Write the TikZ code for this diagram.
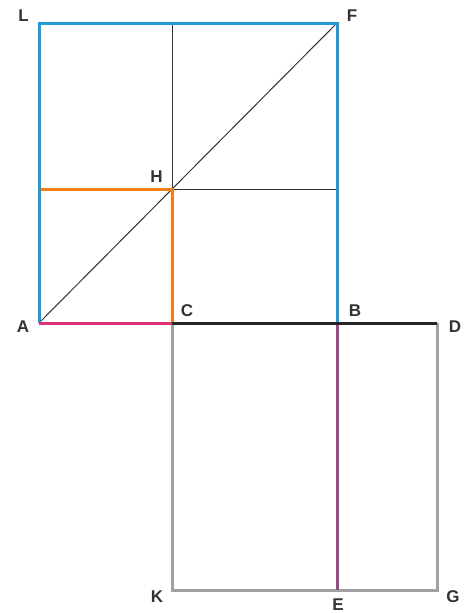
\documentclass[tikz,border=0pt]{standalone}
\usepackage{fontspec}
\setmainfont{Liberation Sans}
\definecolor{cblue}{HTML}{1E9ADB}
\definecolor{corange}{HTML}{F57F17}
\definecolor{cmag}{HTML}{E0307A}
\definecolor{cpurp}{HTML}{9A4A8A}
\definecolor{cgray}{HTML}{A0A0A0}
\definecolor{cdark}{HTML}{333333}
\begin{document}
\begin{tikzpicture}[x=1pt,y=-1pt,
  thick line/.style={line width=3pt,line join=miter},
  thin line/.style={line width=1pt,draw=cdark},
  lbl/.style={font=\fontsize{17}{17}\selectfont\bfseries,text=cdark,inner sep=0pt}]
\useasboundingbox (0,0) rectangle (468,613);
\coordinate (L) at (39,23);
\coordinate (F) at (337,23);
\coordinate (A) at (39,323);
\coordinate (C) at (172,323);
\coordinate (B) at (337,323);
\coordinate (D) at (437,323);
\coordinate (H) at (172,189);
\coordinate (K) at (172,590);
\coordinate (E) at (337,590);
\coordinate (G) at (437,590);
\coordinate (T) at (172,23);
\coordinate (R) at (337,189);
\coordinate (M) at (39,189);
% thin lines
\draw[thin line] (T) -- (H) -- (R);
\draw[thin line] (A) -- (F);
% gray square
\draw[thick line,draw=cgray] (C) -- (K) -- (G) -- (D);
% purple
\draw[thick line,draw=cpurp] (B) -- (E);
% orange
\draw[thick line,draw=corange] (M) -- (H) -- (C);
% blue
\draw[thick line,draw=cblue] (A) -- (L) -- (F) -- (B);
% bottom
\draw[thick line,draw=cmag] (A) -- (C);
\draw[thick line,draw=black!85] (C) -- (D);
% labels
\node[lbl] (lL) at (23.5,16) {L};
\node[lbl] (lF) at (352,16) {F};
\node[lbl] (lH) at (156.5,176.5) {H};
\node[lbl] (lA) at (23,326.5) {A};
\node[lbl] (lC) at (187,311) {C};
\node[lbl] (lB) at (355,311) {B};
\node[lbl] (lD) at (455,326.5) {D};
\node[lbl] (lK) at (157,597) {K};
\node[lbl] (lE) at (338,605) {E};
\node[lbl] (lG) at (453,597) {G};
\end{tikzpicture}
\end{document}
